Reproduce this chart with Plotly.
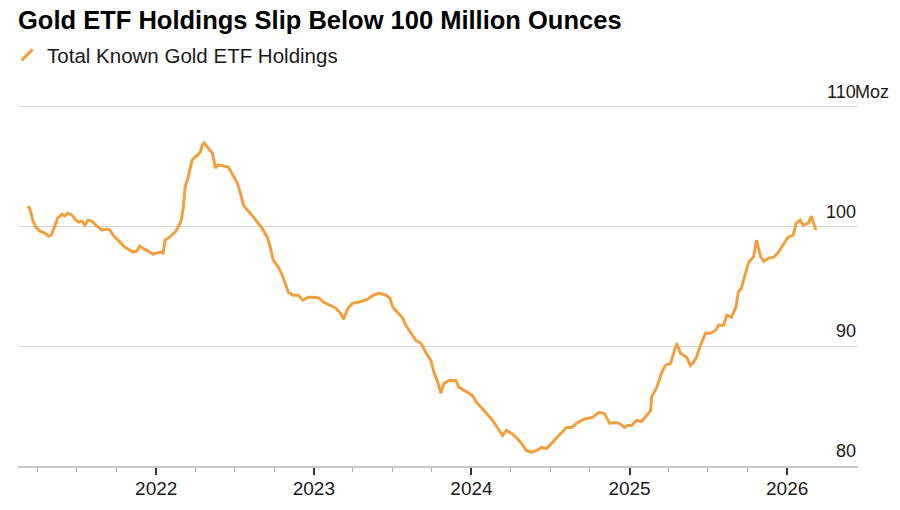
import plotly.graph_objects as go

dates = [
    "2021-03-09","2021-03-14","2021-03-18","2021-03-21","2021-03-28","2021-04-07","2021-04-18","2021-04-27",
    "2021-05-04","2021-05-11","2021-05-18","2021-05-28","2021-06-03","2021-06-10","2021-06-20","2021-06-27",
    "2021-07-04","2021-07-13","2021-07-20","2021-07-27","2021-08-05","2021-08-12","2021-08-19","2021-08-28",
    "2021-09-09","2021-09-16","2021-09-23","2021-10-02","2021-10-09","2021-10-20","2021-11-01","2021-11-08",
    "2021-11-17","2021-11-24","2021-12-01","2021-12-10","2021-12-17","2021-12-24",
    "2022-01-03","2022-01-10","2022-01-17","2022-01-22","2022-01-29","2022-02-07","2022-02-14","2022-02-21",
    "2022-02-28","2022-03-05","2022-03-09","2022-03-16","2022-03-25","2022-04-06","2022-04-13","2022-04-18",
    "2022-04-22","2022-05-01","2022-05-11","2022-05-18","2022-05-25","2022-06-05","2022-06-17","2022-06-21",
    "2022-06-28","2022-07-08","2022-07-15","2022-07-22","2022-07-31","2022-08-11","2022-08-23","2022-09-03",
    "2022-09-15","2022-09-22","2022-09-29","2022-10-11","2022-10-20","2022-10-27","2022-11-03","2022-11-14",
    "2022-11-26","2022-12-07","2022-12-19",
    "2023-01-02","2023-01-13","2023-01-24","2023-02-09","2023-02-21","2023-03-04","2023-03-11","2023-03-21",
    "2023-04-01","2023-04-15","2023-04-27","2023-05-06","2023-05-18","2023-06-01","2023-06-17","2023-06-26",
    "2023-07-03","2023-07-15","2023-07-26","2023-08-02","2023-08-14","2023-08-25","2023-09-06","2023-09-17",
    "2023-09-29","2023-10-06","2023-10-15","2023-10-22","2023-10-29","2023-11-10","2023-11-26","2023-12-03",
    "2023-12-15","2023-12-26",
    "2024-01-03","2024-01-13","2024-01-24","2024-02-05","2024-02-19","2024-03-01","2024-03-13","2024-03-22",
    "2024-04-03","2024-04-14","2024-04-26","2024-05-07","2024-05-19","2024-05-31","2024-06-11","2024-06-23",
    "2024-07-04","2024-07-16","2024-07-27","2024-08-08","2024-08-20","2024-08-31","2024-09-12","2024-09-23",
    "2024-10-07","2024-10-23","2024-11-04","2024-11-16","2024-11-27","2024-12-09","2024-12-20","2024-12-27",
    "2025-01-06","2025-01-17","2025-01-29","2025-02-09","2025-02-19","2025-02-21","2025-03-05","2025-03-16",
    "2025-03-25","2025-04-06","2025-04-13","2025-04-20","2025-04-29","2025-05-06","2025-05-13","2025-05-22",
    "2025-05-29","2025-06-05","2025-06-14","2025-06-26","2025-07-08","2025-07-19","2025-07-26","2025-08-07",
    "2025-08-14","2025-08-25","2025-09-04","2025-09-10","2025-09-17","2025-09-27","2025-10-04","2025-10-15",
    "2025-10-22","2025-11-01","2025-11-08","2025-11-19","2025-12-01","2025-12-12","2025-12-24",
    "2026-01-03","2026-01-15","2026-01-22","2026-01-31","2026-02-07","2026-02-19","2026-02-26","2026-03-07",
    "2026-03-09",
]

holdings_moz = [
    101.7,101.55,101.0,100.54,99.96,99.62,99.46,99.2,
    99.37,99.96,100.71,101.04,100.88,101.13,100.96,100.63,
    100.38,100.46,100.13,100.54,100.46,100.21,99.96,99.71,
    99.79,99.71,99.29,98.96,98.62,98.29,98.04,97.87,
    97.96,98.37,98.2,98.04,97.87,97.7,
    97.79,97.87,97.79,98.88,99.04,99.29,99.54,99.96,
    100.54,101.63,103.3,104.14,105.56,105.98,106.23,106.82,
    106.99,106.57,106.15,104.9,105.15,105.06,104.98,104.73,
    104.31,103.64,102.8,101.8,101.38,100.96,100.38,99.87,
    99.12,98.29,97.2,96.61,95.94,95.27,94.52,94.27,
    94.27,93.85,94.1,
    94.1,94.02,93.68,93.43,93.18,92.76,92.26,93.18,
    93.6,93.68,93.85,93.93,94.27,94.43,94.27,94.02,
    93.26,92.76,92.34,91.76,91.09,90.5,90.25,89.5,
    88.83,87.82,86.99,86.07,86.9,87.15,87.15,86.57,
    86.32,86.07,
    85.9,85.31,84.9,84.39,83.81,83.22,82.55,82.97,
    82.72,82.38,81.88,81.3,81.13,81.3,81.55,81.46,
    81.88,82.3,82.8,83.22,83.22,83.56,83.81,83.97,
    84.06,84.48,84.39,83.56,83.64,83.56,83.22,83.39,
    83.39,83.81,83.72,84.23,84.64,85.73,86.57,87.74,
    88.41,88.58,89.41,90.25,89.41,89.25,89.08,88.41,
    88.66,89.08,90.08,91.09,91.09,91.34,91.76,91.76,
    92.59,92.43,93.26,94.52,94.85,96.19,97.03,97.45,
    98.87,97.45,97.11,97.36,97.45,97.87,98.62,
    99.12,99.29,100.29,100.54,100.13,100.29,100.88,99.87,
    99.71,
]

year_ticks = ["2022-01-01", "2023-01-01", "2024-01-01", "2025-01-01", "2026-01-01"]
year_labels = ["2022", "2023", "2024", "2025", "2026"]
quarter_ticks = [
    "2021-04-01","2021-07-01","2021-10-01",
    "2022-04-01","2022-07-01","2022-10-01",
    "2023-04-01","2023-07-01","2023-10-01",
    "2024-04-01","2024-07-01","2024-10-01",
    "2025-04-01","2025-07-01","2025-10-01",
]
y_ticks = [80, 90, 100, 110]
y_labels = ["80", "90", "100", "110"]
unit_label = "Moz"
series_name = "Total Known Gold ETF Holdings"
title_text = "Gold ETF Holdings Slip Below 100 Million Ounces"

ORANGE = "#F2A03D"
FONT = "Liberation Sans"

# The page body has an 8px margin, so the figure is sized to fit the 900x510 window.
W, H = 892, 502

fig = go.Figure()
fig.add_trace(go.Scatter(
    x=dates, y=holdings_moz, mode="lines",
    line=dict(color=ORANGE, width=3),
    showlegend=False, hoverinfo="skip",
))
fig.add_trace(go.Scatter(
    x=[None], y=[None], mode="markers", name=series_name,
    marker=dict(symbol="line-ne", size=11, color=ORANGE,
                line=dict(color=ORANGE, width=3)),
    showlegend=True,
))

for v, lab in zip(y_ticks, y_labels):
    fig.add_annotation(
        x=1, xref="paper", y=v, yref="y", text=lab, showarrow=False,
        xanchor="right", yanchor="bottom", yshift=3,
        font=dict(family=FONT, size=18, color="#1a1a1a"),
    )
fig.add_annotation(
    x=1, xref="paper", y=y_ticks[-1], yref="y", text=unit_label, showarrow=False,
    xanchor="left", yanchor="bottom", yshift=3, xshift=-5,
    font=dict(family=FONT, size=18, color="#1a1a1a"),
)

fig.update_layout(
    width=W, height=H,
    margin=dict(l=10, r=42, t=75, b=44, autoexpand=False),
    paper_bgcolor="white", plot_bgcolor="white",
    font=dict(family=FONT, color="#1a1a1a"),
    title=dict(
        text="<b>" + title_text + "</b>",
        x=10 / W, xref="container", xanchor="left",
        y=1, yref="container", yanchor="top", pad=dict(t=3, b=0, l=0, r=0),
        font=dict(family=FONT, size=25.5, color="#000000"),
    ),
    legend=dict(
        orientation="h", x=-0.013, xanchor="left",
        y=1 - 47 / H, yref="container", yanchor="middle",
        font=dict(family=FONT, size=20.5, color="#1a1a1a"),
        bgcolor="rgba(0,0,0,0)",
    ),
    xaxis=dict(
        type="date", range=["2021-02-15", "2026-06-14"],
        tickmode="array", tickvals=year_ticks, ticktext=year_labels,
        ticks="outside", ticklen=7, tickwidth=1.5, tickcolor="#333333",
        ticklabelstandoff=-3,
        showline=True, linecolor="#c8c8c8", linewidth=1.5,
        showgrid=False, zeroline=False,
        tickfont=dict(family=FONT, size=19, color="#1a1a1a"),
        minor=dict(tickmode="array", tickvals=quarter_ticks, ticks="outside",
                   ticklen=4, tickwidth=1, tickcolor="#aaaaaa", showgrid=False),
    ),
    yaxis=dict(
        range=[80, 112], side="right",
        tickmode="array", tickvals=y_ticks, showticklabels=False,
        showgrid=True, gridcolor="#d6d6d6", gridwidth=1.2,
        zeroline=False, showline=False, ticks="",
    ),
)

fig.write_html("out.html")
